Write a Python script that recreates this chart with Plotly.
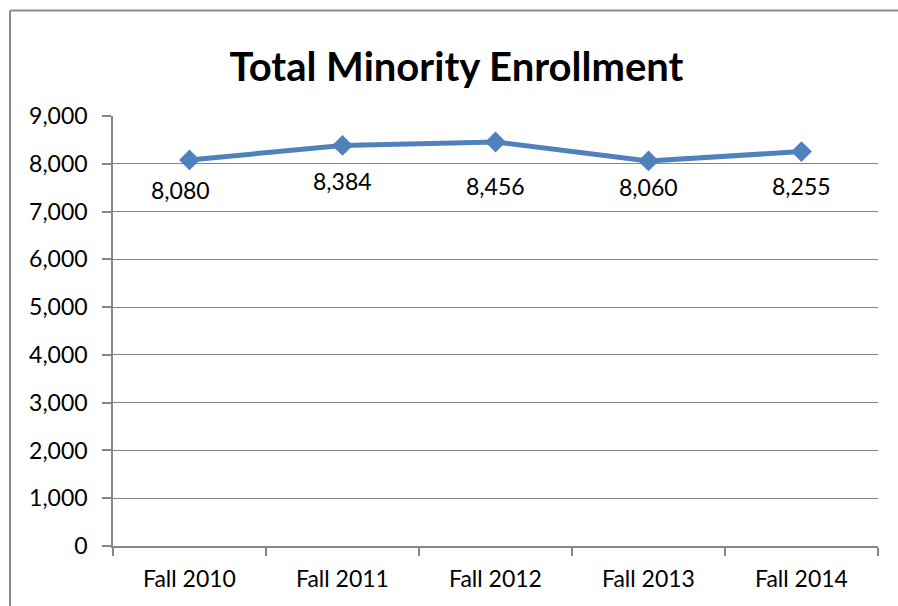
import plotly.graph_objects as go

categories = ["Fall 2010", "Fall 2011", "Fall 2012", "Fall 2013", "Fall 2014"]
enrollment = [8080, 8384, 8456, 8060, 8255]
label_text = ["8,080", "8,384", "8,456", "8,060", "8,255"]
y_ticks = [0, 1000, 2000, 3000, 4000, 5000, 6000, 7000, 8000, 9000]
y_tick_labels = ["0", "1,000", "2,000", "3,000", "4,000", "5,000", "6,000", "7,000", "8,000", "9,000"]

# label placement styling (pixel shifts, as in the reference)
label_yshift = [-30, -36, -44, -26, -34]
label_xshift = [-9, 0, 0, 0, 0]

FONT = "Lato"
GRID = "#868686"
LINE = "#4F81BD"
BORDER = "#8C8C8C"

fig = go.Figure()
fig.add_trace(go.Scatter(
    x=categories, y=enrollment, mode="lines+markers",
    line=dict(color=LINE, width=5),
    marker=dict(symbol="diamond", size=16, color=LINE),
    hoverinfo="skip", showlegend=False,
))

for c, v, t, dy, dx in zip(categories, enrollment, label_text, label_yshift, label_xshift):
    fig.add_annotation(x=c, y=v, text=t, showarrow=False, xref="x", yref="y",
                       yshift=dy, xshift=dx, font=dict(family=FONT, size=23, color="#000000"))

# outer chart border (top and left edges visible in the reference)
bx0 = (10 - 113) / 765
by1 = (546 - 10.5) / 430
fig.add_shape(type="line", xref="paper", yref="paper", x0=bx0, x1=2.0, y0=by1, y1=by1,
              line=dict(color=BORDER, width=2))
fig.add_shape(type="line", xref="paper", yref="paper", x0=bx0, x1=bx0, y0=-1.0, y1=by1,
              line=dict(color=BORDER, width=2))

fig.update_layout(
    width=898, height=606,
    margin=dict(l=113, r=20, t=116, b=60),
    paper_bgcolor="white", plot_bgcolor="white",
    title=dict(text="<b>Total Minority Enrollment</b>", xref="container", yref="container",
               x=456.5 / 898, y=1 - 67 / 606, xanchor="center", yanchor="middle",
               font=dict(family=FONT, size=40, color="#000000")),
    xaxis=dict(type="category", tickson="boundaries", ticks="outside", ticklen=8,
               tickcolor=GRID, tickwidth=1.5, showline=True, linecolor=GRID, linewidth=1.5,
               showgrid=False, tickfont=dict(family=FONT, size=23, color="#000000"),
               ticklabelstandoff=12, range=[-0.5, 4.5], fixedrange=True),
    yaxis=dict(range=[0, 9000], tickvals=y_ticks, ticktext=y_tick_labels,
               ticks="outside", ticklen=9, tickcolor=GRID, tickwidth=1.5,
               showline=True, linecolor=GRID, linewidth=1.5,
               showgrid=True, gridcolor=GRID, gridwidth=1.3, zeroline=False,
               tickfont=dict(family=FONT, size=23, color="#000000"),
               ticklabelstandoff=10, fixedrange=True),
)

fig.write_html("out.html", config={"displayModeBar": False},
               post_script="document.body.style.margin='0';document.body.style.overflow='hidden';")
